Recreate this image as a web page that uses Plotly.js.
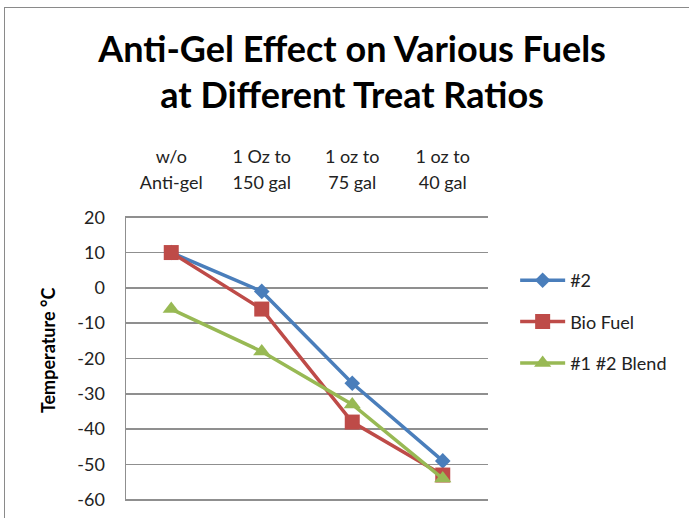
<!DOCTYPE html>
<html>
<head>
<meta charset="utf-8">
<script src="https://cdn.plot.ly/plotly-3.0.1.min.js"></script>
<style>
  html, body { margin: 0; padding: 0; background: #fff; }
  #wrap { position: relative; width: 689px; height: 518px; overflow: hidden; }
  #chart { position: absolute; left: 0; top: 0; width: 689px; height: 518px; }
  #frame { position: absolute; left: 4px; top: 7px; width: 800px; height: 800px;
           border: 1px solid #8a8a8a; pointer-events: none; }
</style>
</head>
<body>
<div id="wrap">
  <div id="chart"></div>
  <div id="frame"></div>
</div>
<script>
// ---- data ----
const categories = ['w/o|Anti-gel', '1 Oz to|150 gal', '1 oz to|75 gal', '1 oz to|40 gal'];
const seriesNames = ['#2', 'Bio Fuel', '#1 #2 Blend'];
const values2 = [10, -1, -27, -49];
const valuesBio = [10, -6, -38, -53];
const valuesBlend = [-6, -18, -33, -54];
const yTicks = [20, 10, 0, -10, -20, -30, -40, -50, -60];
const yTitle = 'Temperature °C';

// ---- build ----
const xIdx = categories.map((c, i) => i);
const tickText = categories.map(c => c.split('|')
  .map(s => '<span style="font-size:18px">' + s + '</span>').join('<br>'));

const colors = ['#4A7EBB', '#BE4B48', '#98B954'];
const symbols = ['diamond', 'square', 'triangle-up'];
const sizes = [12, 15, 15];
const allVals = [values2, valuesBio, valuesBlend];

const traces = allVals.map((v, i) => ({
  type: 'scatter',
  mode: 'lines+markers',
  name: seriesNames[i],
  legendgroup: 'g' + i,
  x: xIdx,
  y: v,
  line: { color: colors[i], width: 3.5 },
  marker: { color: colors[i], symbol: symbols[i], size: sizes[i], line: { width: 0 } },
  cliponaxis: false
}));

const font = 'Lato, "Open Sans", "Liberation Sans", sans-serif';
const pad = 0.35; // keep end gridlines visible

const layout = {
  width: 689,
  height: 518,
  margin: { l: 126, r: 201, t: 216, b: 17 },
  paper_bgcolor: '#ffffff',
  plot_bgcolor: '#ffffff',
  font: { family: font, color: '#222', size: 18 },
  title: {
    text: 'Anti-Gel Effect on Various Fuels<br>at Different Treat Ratios',
    font: { family: font, size: 36, color: '#000', weight: 'bold' },
    xref: 'container', x: 0.511, xanchor: 'center',
    yref: 'container', y: 0.881, yanchor: 'middle'
  },
  showlegend: true,
  legend: {
    x: 1.075, xanchor: 'left',
    y: 0.628, yanchor: 'middle',
    font: { family: font, size: 18, color: '#222' },
    tracegroupgap: 15,
    traceorder: 'grouped',
    itemwidth: 45,
    bgcolor: 'rgba(0,0,0,0)'
  },
  annotations: [{
    text: yTitle,
    xref: 'paper', yref: 'paper',
    x: -0.215, y: 0.53,
    xanchor: 'center', yanchor: 'middle',
    textangle: -90,
    showarrow: false,
    font: { family: font, size: 18, color: '#000', weight: 'bold' }
  }],
  xaxis: {
    side: 'top',
    range: [-0.5, 3.5],
    tickmode: 'array',
    tickvals: xIdx,
    ticktext: tickText,
    tickfont: { family: font, size: 20, color: '#222' },
    ticks: '',
    ticklabelstandoff: 22,
    showgrid: false,
    zeroline: false,
    showline: false,
    fixedrange: true
  },
  yaxis: {
    range: [-60 - pad, 20 + pad],
    tickmode: 'array',
    tickvals: yTicks,
    ticktext: yTicks.map(String),
    tickfont: { family: font, size: 18, color: '#222' },
    ticks: '',
    ticklabelstandoff: 16,
    showgrid: true,
    gridcolor: '#8f8f8f',
    gridwidth: 1.5,
    zeroline: false,
    showline: true,
    linecolor: '#8f8f8f',
    linewidth: 1.5,
    fixedrange: true
  }
};

Plotly.newPlot('chart', traces, layout, { displayModeBar: false, staticPlot: true });
</script>
</body>
</html>
